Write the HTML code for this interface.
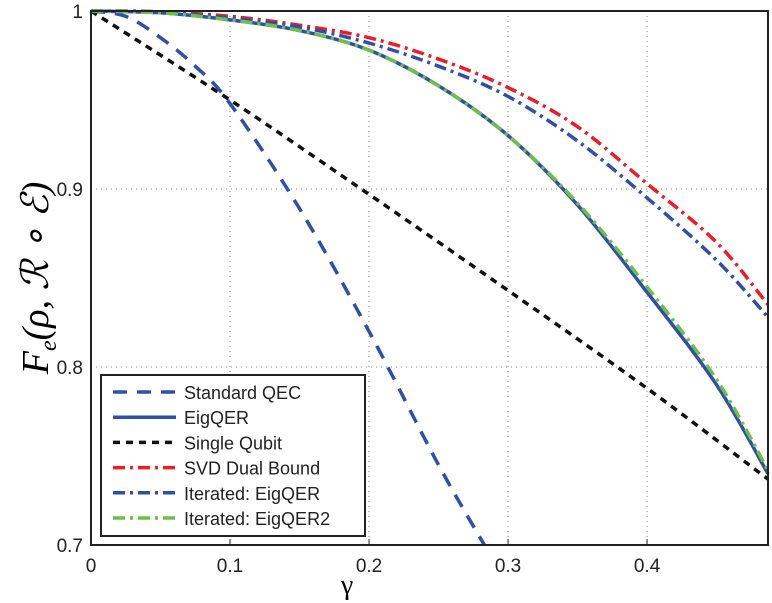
<!DOCTYPE html>
<html><head><meta charset="utf-8"><style>
html,body{margin:0;padding:0;background:#fff;}
svg{display:block;font-family:"Liberation Sans",sans-serif;}
</style></head><body>
<svg id="chart" width="772" height="603" viewBox="0 0 772 603">
<g id="grid"></g>
<g id="series"></g>
<rect x="91" y="11" width="677" height="534" fill="none" stroke="#222" stroke-width="2"/>
<g id="ticks"></g>
<text x="347" y="594" font-family="Liberation Serif,serif" font-size="28" text-anchor="middle">γ</text>
<text transform="translate(48,278) rotate(-90)" font-family="Liberation Serif,serif" font-style="italic" font-size="38" text-anchor="middle">F<tspan font-size="24" dy="8">e</tspan><tspan dy="-8">(ρ, ℛ ∘ ℰ)</tspan></text>
<g id="legend">
<rect x="101" y="375" width="264" height="161" fill="#fff" stroke="#222" stroke-width="2"/>
</g>
</svg>
<script>
const xTicks=[0,0.1,0.2,0.3,0.4];
const yTicks=[0.7,0.8,0.9,1];
const xTickLabels=["0","0.1","0.2","0.3","0.4"];
const yTickLabels=["0.7","0.8","0.9","1"];
const seriesNames=["Standard QEC","EigQER","Single Qubit","SVD Dual Bound","Iterated: EigQER","Iterated: EigQER2"];
const stdX=[0,0.025,0.05,0.075,0.1,0.15,0.2,0.25,0.283];
const stdY=[1,0.997,0.985,0.969,0.948,0.889,0.82,0.745,0.70];
const sqX=[0,0.1,0.2,0.3,0.4,0.487];
const sqY=[1,0.95,0.897,0.843,0.788,0.737];
const eigX=[0,0.05,0.1,0.15,0.2,0.25,0.3,0.35,0.4,0.45,0.487];
const eigY=[1,0.999,0.995,0.989,0.978,0.958,0.93,0.891,0.842,0.79,0.74];
const eig2Y=[1,0.999,0.995,0.989,0.978,0.958,0.93,0.892,0.845,0.793,0.742];
const svdX=[0,0.05,0.1,0.15,0.2,0.25,0.3,0.35,0.4,0.45,0.487];
const svdY=[1,0.9995,0.997,0.992,0.985,0.973,0.957,0.935,0.903,0.87,0.835];
const itY=[1,0.9995,0.996,0.991,0.982,0.969,0.952,0.927,0.895,0.86,0.828];
const L=91,R=768,T=11,B=545;
const xs=v=>L+v/0.487*(R-L);
const ys=v=>B-(v-0.7)/0.3*(B-T);
const NS="http://www.w3.org/2000/svg";
function mk(tag,attrs,parent){const e=document.createElementNS(NS,tag);for(const k in attrs)e.setAttribute(k,attrs[k]);parent.appendChild(e);return e;}
function smooth(P){let d='M'+P[0][0]+','+P[0][1];for(let i=0;i<P.length-1;i++){const p0=P[Math.max(0,i-1)],p1=P[i],p2=P[i+1],p3=P[Math.min(P.length-1,i+2)];
 const c1=[p1[0]+(p2[0]-p0[0])/6,p1[1]+(p2[1]-p0[1])/6],c2=[p2[0]-(p3[0]-p1[0])/6,p2[1]-(p3[1]-p1[1])/6];
 d+=' C'+c1[0]+','+c1[1]+' '+c2[0]+','+c2[1]+' '+p2[0]+','+p2[1];}return d;}
const grid=document.getElementById('grid'),ticks=document.getElementById('ticks'),ser=document.getElementById('series'),leg=document.getElementById('legend');
xTicks.forEach((t,i)=>{
 if(t>0){const g=mk('line',{x1:xs(t),x2:xs(t),y1:T,y2:B,stroke:'#888','stroke-width':1,'stroke-dasharray':'1 4'},grid);
 
 
 const tk=mk('line',{x1:xs(t),x2:xs(t),y1:B,y2:B-6,stroke:'#222','stroke-width':1},grid);
 
 }
 const tx=mk('text',{x:xs(t),y:572,'font-size':19,'text-anchor':'middle',fill:'#222'},ticks);tx.textContent=xTickLabels[i];
 
 
});
yTicks.forEach((t,i)=>{
 if(t>0.7&&t<1){const g=mk('line',{x1:L,x2:R,y1:ys(t),y2:ys(t),stroke:'#888','stroke-width':1,'stroke-dasharray':'1 4'},grid);
 
 }
 const tx=mk('text',{x:83,y:ys(t)+7,'font-size':19,'text-anchor':'end',fill:'#222'},ticks);tx.textContent=yTickLabels[i];
 
 
});
const styles=[
 {c:'#2f4fa8',d:'14 10'},{c:'#2f4fa8',d:''},{c:'#111',d:'7 6'},{c:'#ee1c24',d:'12 5 3 5'},{c:'#2f4fa8',d:'12 5 3 5'},{c:'#6cc04a',d:'12 5 3 5'}];
const data=[[stdX,stdY],[eigX,eigY],[sqX,sqY],[svdX,svdY],[eigX,itY],[eigX,eig2Y]];
const names=['standard-qec-line','eigqer-line','single-qubit-line','svd-dual-bound-line','iterated-eigqer-line','iterated-eigqer2-line'];
const order=[2,0,3,4,1,5];
order.forEach(i=>{
 const [X,Y]=data[i];
 const p=mk('path',{d:smooth(X.map((x,j)=>[xs(x),ys(Y[j])])),fill:'none',stroke:styles[i].c,'stroke-width':3.5,'stroke-dasharray':styles[i].d},ser);
 
 
});
seriesNames.forEach((n,i)=>{
 const y=392+i*25.2;
 const ln=mk('line',{x1:113,x2:176,y1:y,y2:y,stroke:styles[i].c,'stroke-width':3.5,'stroke-dasharray':styles[i].d},leg);
 
 
 const t=mk('text',{x:184,y:y+7,'font-size':18,fill:'#222'},leg);t.textContent=n;
 
 
});
</script>
</body></html>
